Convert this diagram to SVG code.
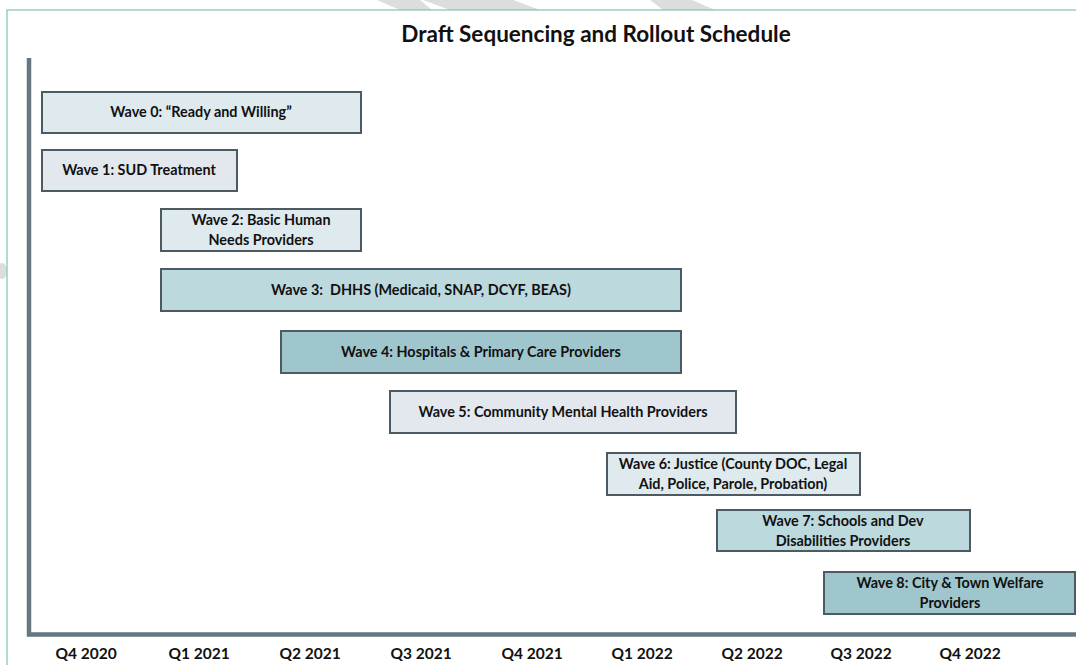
<svg xmlns="http://www.w3.org/2000/svg" width="1076" height="665" viewBox="0 0 1076 665">
<style>
.bar{stroke:#4d5a61;stroke-width:2}
.f0{fill:#deeaee}.f1{fill:#e3e7ee}.f3{fill:#bcd9de}.f4{fill:#9fc6cd}
text{font-family:Lato,"Open Sans","Liberation Sans",sans-serif;font-weight:bold;fill:#111}
.lbl{font-size:14.4px;text-anchor:middle}
.ax{font-size:15.5px;text-anchor:middle}
.title{font-size:22.5px;text-anchor:middle}
.wm{fill:#dddddd}
</style>
<rect width="1076" height="665" fill="#ffffff"/>
<g id="watermark">
<polygon class="wm" points="377,0 420,0 432,10 400,10"/>
<polygon class="wm" points="423,0 513,0 540,10 450,10"/>
<polygon class="wm" points="650,0 692,0 715,10 663,10"/>
<ellipse class="wm" cx="2" cy="271" rx="5" ry="8"/>
</g>
<rect id="panel" x="7" y="10" width="1100" height="700" fill="#ffffff" stroke="#7fc4a8" stroke-width="1.2"/>
<text class="title" x="596" y="42">Draft Sequencing and Rollout Schedule</text>
<g id="connectors">
<polyline points="29,58 29,634.5 1076,634.5" fill="none" stroke="#66777f" stroke-width="4.5"/>
</g>
<g id="wave0"><rect class="bar f0" x="42" y="92" width="319" height="41"/><text class="lbl" x="201" y="117">Wave 0: “Ready and Willing”</text></g>
<g id="wave1"><rect class="bar f1" x="42" y="150" width="195" height="41"/><text class="lbl" x="139" y="175">Wave 1: SUD Treatment</text></g>
<g id="wave2"><rect class="bar f0" x="161" y="209" width="200" height="42"/><text class="lbl" x="261" y="225">Wave 2: Basic Human</text><text class="lbl" x="261" y="245">Needs Providers</text></g>
<g id="wave3"><rect class="bar f3" x="161" y="269" width="520" height="42"/><text class="lbl" x="421" y="295" xml:space="preserve">Wave 3:  DHHS (Medicaid, SNAP, DCYF, BEAS)</text></g>
<g id="wave4"><rect class="bar f4" x="281" y="331" width="400" height="42"/><text class="lbl" x="481" y="357">Wave 4: Hospitals &amp; Primary Care Providers</text></g>
<g id="wave5"><rect class="bar f1" x="390" y="391" width="346" height="42"/><text class="lbl" x="563" y="417">Wave 5: Community Mental Health Providers</text></g>
<g id="wave6"><rect class="bar f0" x="607" y="453" width="253" height="42"/><text class="lbl" x="733" y="469">Wave 6: Justice (County DOC, Legal</text><text class="lbl" x="733" y="489">Aid, Police, Parole, Probation)</text></g>
<g id="wave7"><rect class="bar f3" x="717" y="510" width="253" height="41"/><text class="lbl" x="843" y="526">Wave 7: Schools and Dev</text><text class="lbl" x="843" y="546">Disabilities Providers</text></g>
<g id="wave8"><rect class="bar f4" x="824" y="572" width="251" height="42"/><text class="lbl" x="950" y="588">Wave 8: City &amp; Town Welfare</text><text class="lbl" x="950" y="608">Providers</text></g>
<g id="axis-labels">
<text class="ax" x="86" y="659">Q4 2020</text>
<text class="ax" x="199" y="659">Q1 2021</text>
<text class="ax" x="310" y="659">Q2 2021</text>
<text class="ax" x="421" y="659">Q3 2021</text>
<text class="ax" x="532" y="659">Q4 2021</text>
<text class="ax" x="642" y="659">Q1 2022</text>
<text class="ax" x="752" y="659">Q2 2022</text>
<text class="ax" x="861" y="659">Q3 2022</text>
<text class="ax" x="970" y="659">Q4 2022</text>
</g>
</svg>
